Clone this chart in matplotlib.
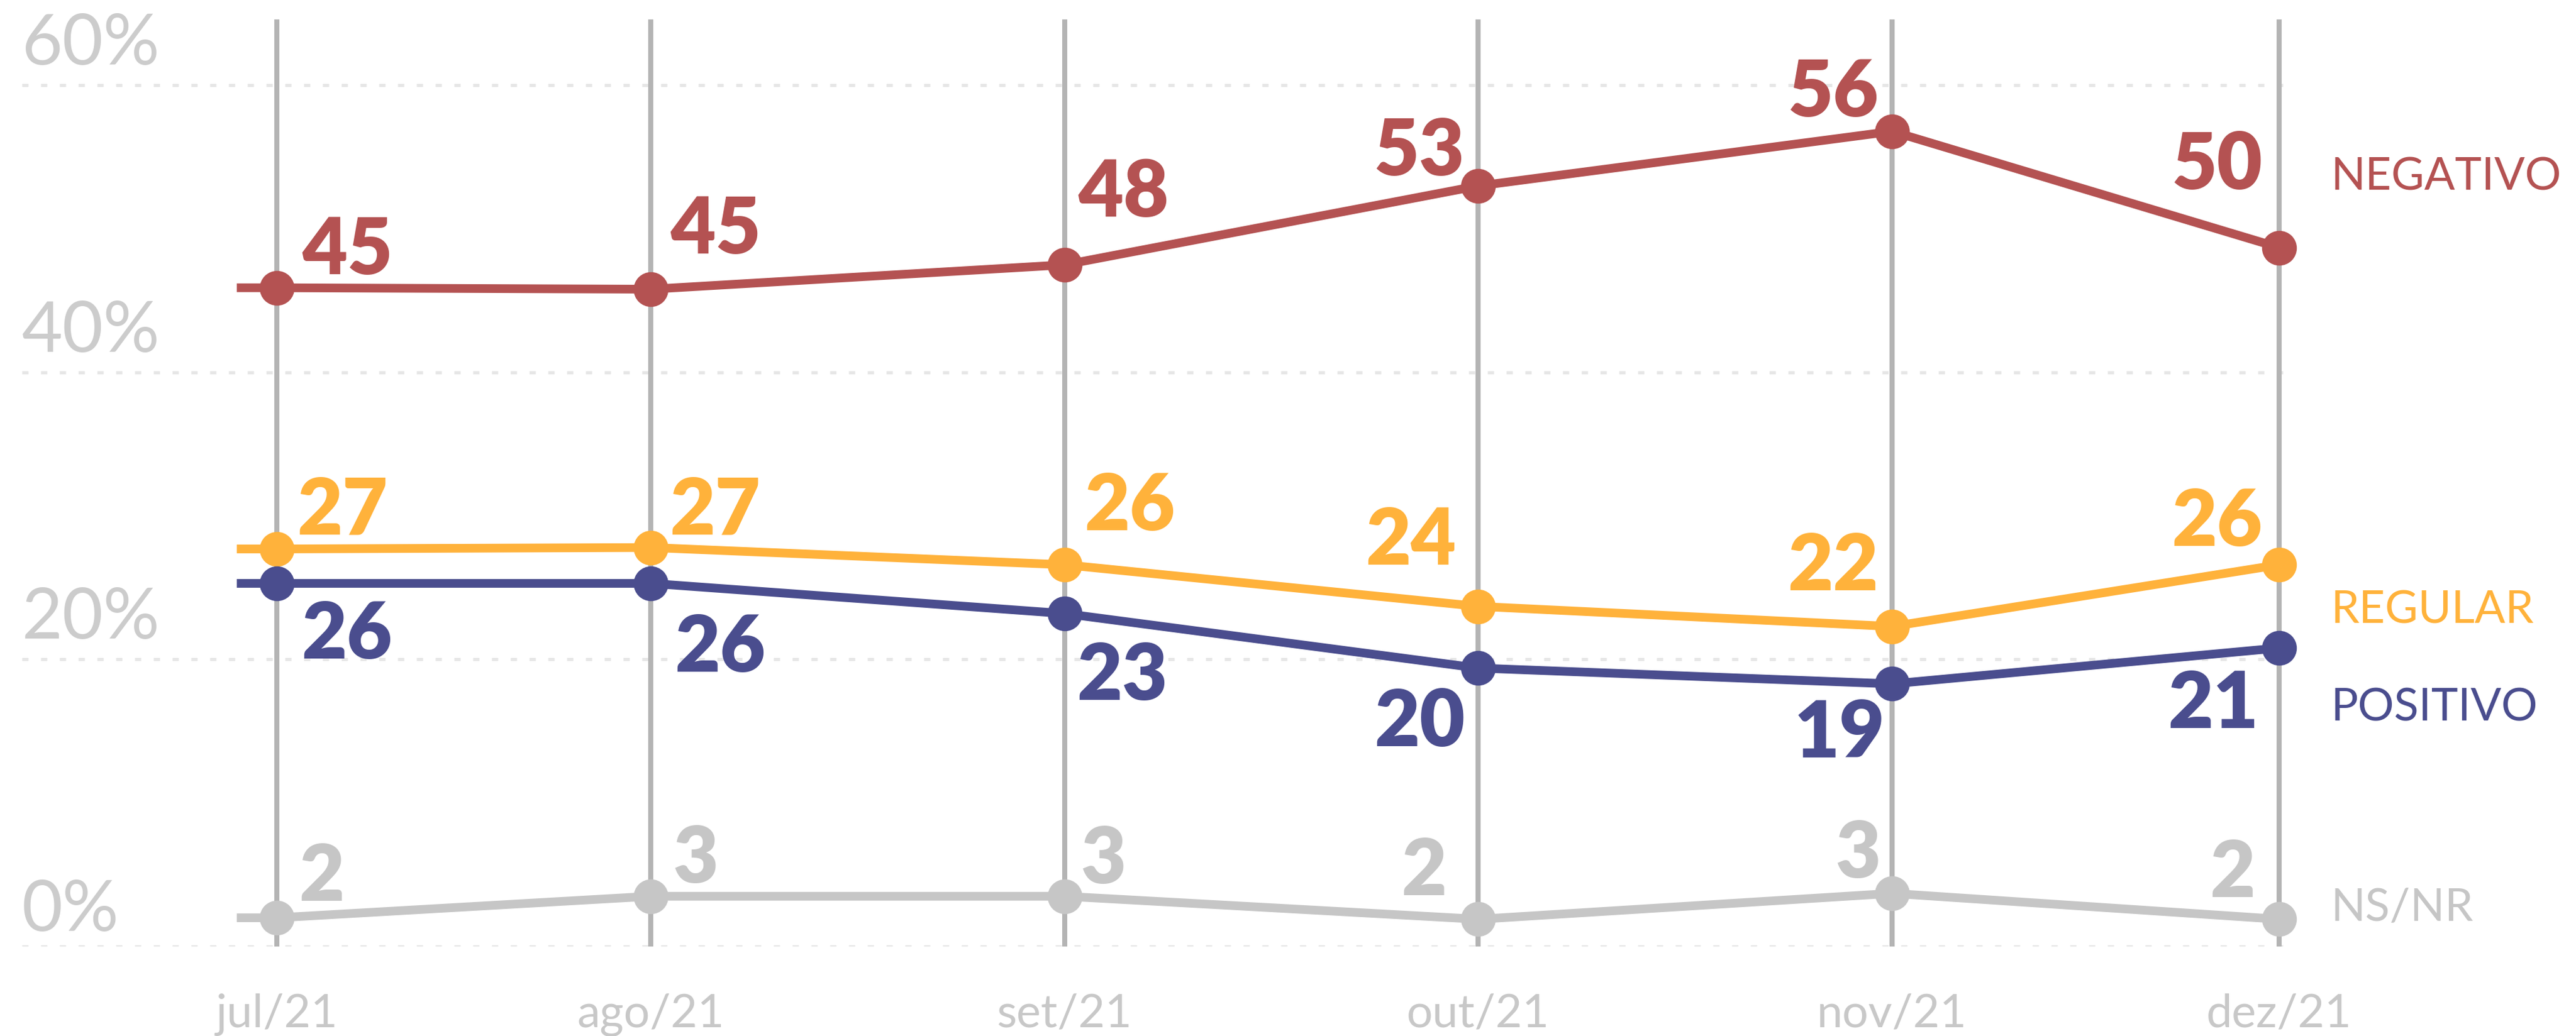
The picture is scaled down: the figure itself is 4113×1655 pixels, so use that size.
import datetime as dt
import matplotlib
matplotlib.use("Agg")
import matplotlib.pyplot as plt
import matplotlib.dates as mdates

# survey dates (uneven spacing, as in the original)
dates = [dt.date(2021, 7, 8), dt.date(2021, 8, 5), dt.date(2021, 9, 5),
         dt.date(2021, 10, 6), dt.date(2021, 11, 6), dt.date(2021, 12, 5)]
month_labels = ['jul/21', 'ago/21', 'set/21', 'out/21', 'nov/21', 'dez/21']

negativo = [45.9, 45.8, 47.5, 53.0, 56.8, 48.7]
regular = [27.7, 27.8, 26.6, 23.7, 22.3, 26.6]
positivo = [25.3, 25.3, 23.2, 19.4, 18.3, 20.8]
nsnr = [2.0, 3.5, 3.5, 1.9, 3.7, 1.9]

negativo_lbl = ['45', '45', '48', '53', '56', '50']
regular_lbl = ['27', '27', '26', '24', '22', '26']
positivo_lbl = ['26', '26', '23', '20', '19', '21']
nsnr_lbl = ['2', '3', '3', '2', '3', '2']

series_names = ['NEGATIVO', 'REGULAR', 'POSITIVO', 'NS/NR']
y_ticks = [0, 20, 40, 60]

# label offsets in pixels (dx to near edge, dy to baseline)
neg_off = [(40, 23), (31, 58), (22, 78), (-22, 18), (-22, 25), (-27, 95)]
reg_off = [(32, 24), (30, 22), (32, 56), (-35, 68), (-22, 59), (-27, 31)]
pos_off = [(39, -119), (38, -140), (20, -137), (-21, -124), (-11, -117), (-33, -127)]
ns_off = [(35, 28), (36, 23), (26, 22), (-51, 39), (-18, 26), (-38, 36)]
name_off = [93, -92, -115, -2]

colors = ['#b45252', '#ffb23b', '#4a4d8e', '#c6c6c6']

plt.rcParams['font.family'] = ['Lato', 'DejaVu Sans']

fig = plt.figure(figsize=(41.13, 16.56), dpi=100)
W, H = 4113, 1656
ax = fig.add_axes([35 / W, 1 - 1513 / H, (3652 - 35) / W, (1513 - 32) / H])

x = mdates.date2num(dates)
lead = 3.0
ax.set_xlim(x[0] - 19.1, x[-1] + 0.6)
ax.set_ylim(0, 64.6)
ax.axis('off')

# horizontal dotted grid
for t in y_ticks:
    ax.axhline(t, color='#e6e6e6', lw=3.6, linestyle=(0, (2, 4)), zorder=1)
    ax.annotate(f'{t}%', xy=(0, t), xycoords=('axes fraction', 'data'),
                xytext=(0, 34 if t else 26), textcoords='offset pixels',
                ha='left', va='baseline', fontsize=81, color='#cccccc',
                fontweight='normal')

# vertical lines at each survey
for xi, lbl in zip(x, month_labels):
    ax.axvline(xi, color='#b4b4b4', lw=5.8, zorder=2)
    ax.annotate(lbl, xy=(xi, 0), xytext=(0, -128), textcoords='offset pixels',
                ha='center', va='baseline', fontsize=53, color='#c8c8c8',
                fontweight='normal', annotation_clip=False)

all_vals = [negativo, regular, positivo, nsnr]
all_lbls = [negativo_lbl, regular_lbl, positivo_lbl, nsnr_lbl]
all_offs = [neg_off, reg_off, pos_off, ns_off]

for vals, lbls, offs, col, name, noff in zip(all_vals, all_lbls, all_offs,
                                             colors, series_names, name_off):
    xs = [x[0] - lead] + list(x)
    ys = [vals[0]] + list(vals)
    ax.plot(xs, ys, color=col, lw=10, solid_capstyle='butt',
            solid_joinstyle='round', zorder=3, clip_on=False)
    ax.plot(x, vals, 'o', color=col, ms=40, mew=0, zorder=4, clip_on=False)
    for xi, v, s, (dx, dy) in zip(x, vals, lbls, offs):
        ax.annotate(s, xy=(xi, v), xytext=(dx, dy), textcoords='offset pixels',
                    ha='left' if dx > 0 else 'right', va='baseline',
                    fontsize=90, fontweight='heavy', color=col,
                    annotation_clip=False, zorder=5)
    ax.annotate(name, xy=(x[-1], vals[-1]), xytext=(82, noff),
                textcoords='offset pixels', ha='left', va='baseline',
                fontsize=52, color=col, fontweight='normal',
                annotation_clip=False)

fig.savefig('out.png', dpi=100, facecolor='white')
